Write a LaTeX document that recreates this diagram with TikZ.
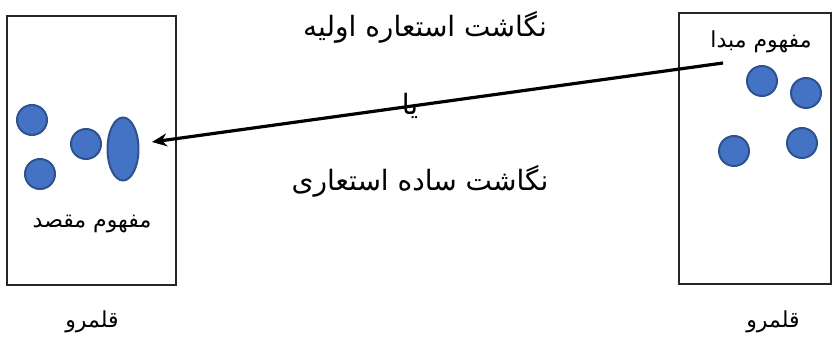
\documentclass[tikz,border=0pt]{standalone}
\usepackage{fontspec}
\usepackage{xcolor}
\usetikzlibrary{positioning,arrows.meta,shapes.geometric}
\TeXXeTstate=1
\newfontfamily\arabicfont[Script=Arabic]{DejaVu Sans}
\definecolor{dotfill}{HTML}{4472C4}
\definecolor{dotline}{HTML}{2F528F}

\begin{document}
\begin{tikzpicture}[
  x=1pt, y=-1pt,
  realm/.style={draw=black!85, line width=2.4pt},
  dot/.style={circle, fill=dotfill, draw=dotline, line width=2pt, minimum size=30pt, inner sep=0pt},
  txt/.style={font=\arabicfont\fontsize{22}{26}\selectfont, inner sep=1pt},
  bigtxt/.style={font=\arabicfont\fontsize{28}{32}\selectfont, inner sep=1pt},
  arr/.style={-{Stealth[length=15pt,width=13pt]}, line width=3.2pt}
]
\useasboundingbox (0,0) rectangle (832,344);
% left realm (target)
\draw[realm] (7,16) rectangle (176,285);
\node[dot] (t1) at (32,120) {};
\node[dot] (t2) at (40,174) {};
\node[dot] (t3) at (86,144) {};
\node[ellipse, fill=dotfill, draw=dotline, line width=2pt, minimum width=31pt, minimum height=63pt, inner sep=0pt] (t4) at (123,149) {};
\node[txt] (tgt) at (92,224) {\beginR مفهوم مقصد\endR};
\node[txt] (tdom) at (92,322) {\beginR قلمرو\endR};
% right realm (source)
\draw[realm] (679,13) rectangle (831,284);
\node[txt] (src) at (761,42) {\beginR مفهوم مبدا\endR};
\node[dot] (s1) at (762,81) {};
\node[dot] (s2) at (806,93) {};
\node[dot] (s3) at (734,151) {};
\node[dot] (s4) at (802,143) {};
\node[txt] (sdom) at (773,322) {\beginR قلمرو\endR};
% mapping
\coordinate (from) at (723,63);
\coordinate (to) at (152,142);
\draw[arr] (from) -- (to);
\node[bigtxt] (m1) at (425,27) {\beginR نگاشت استعاره اولیه\endR};
\node[bigtxt] (or) at (410,106) {\beginR یا\endR};
\node[bigtxt] (m2) at (420,181) {\beginR نگاشت ساده استعاری\endR};
\end{tikzpicture}
\end{document}
